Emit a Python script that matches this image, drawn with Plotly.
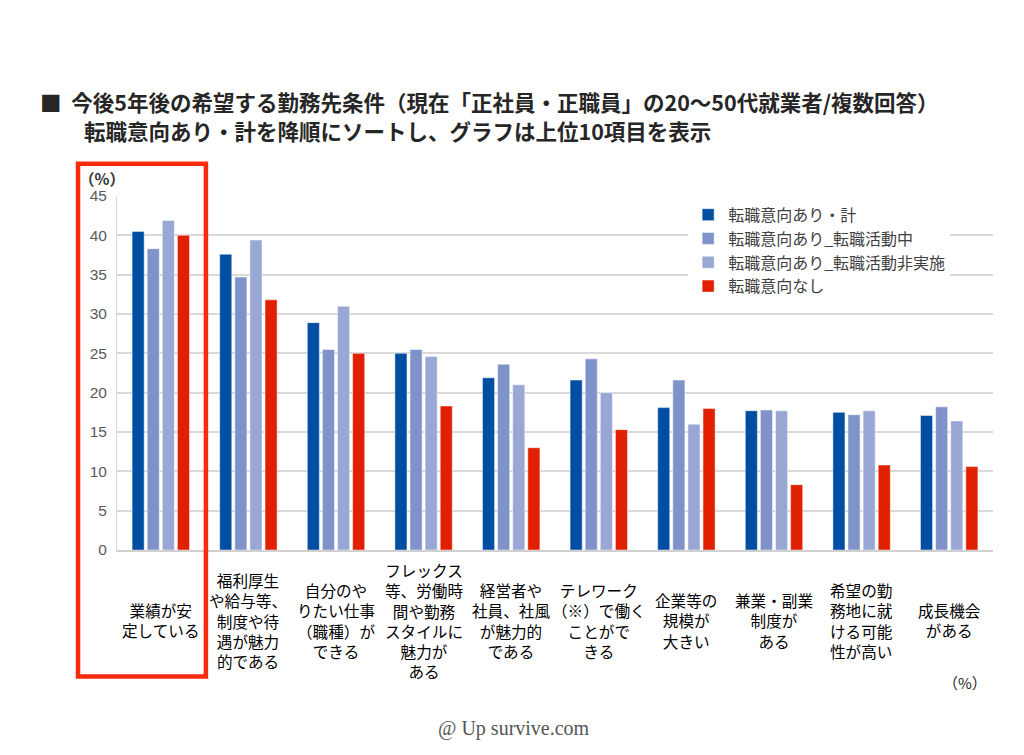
import plotly.graph_objects as go

categories = [
    "業績が安<br>定している",
    "福利厚生<br>や給与等、<br>制度や待<br>遇が魅力<br>的である",
    "自分のや<br>りたい仕事<br>（職種）が<br>できる",
    "フレックス<br>等、労働時<br>間や勤務<br>スタイルに<br>魅力が<br>ある",
    "経営者や<br>社員、社風<br>が魅力的<br>である",
    "テレワーク<br>（※）で働く<br>ことがで<br>きる",
    "企業等の<br>規模が<br>大きい",
    "兼業・副業<br>制度が<br>ある",
    "希望の勤<br>務地に就<br>ける可能<br>性が高い",
    "成長機会<br>がある",
]
cat_ids = [f"c{i}" for i in range(len(categories))]

series_names = [
    "転職意向あり・計",
    "転職意向あり_転職活動中",
    "転職意向あり_転職活動非実施",
    "転職意向なし",
]
total = [40.5, 37.6, 28.9, 25.0, 21.9, 21.6, 18.1, 17.7, 17.5, 17.1]
active = [38.3, 34.7, 25.5, 25.5, 23.6, 24.3, 21.6, 17.8, 17.2, 18.2]
inactive = [41.9, 39.4, 31.0, 24.6, 21.0, 20.0, 16.0, 17.7, 17.7, 16.4]
no_intent = [40.0, 31.8, 25.0, 18.3, 13.0, 15.3, 18.0, 8.3, 10.8, 10.6]
series_values = [total, active, inactive, no_intent]
colors = ["#004EA2", "#7F93CA", "#98A7D4", "#E02000"]

y_ticks = [0, 5, 10, 15, 20, 25, 30, 35, 40, 45]

JP = "Noto Sans CJK JP"

fig = go.Figure()
for name, vals, col in zip(series_names, series_values, colors):
    fig.add_trace(go.Bar(
        x=cat_ids, y=vals, name=name,
        marker=dict(color=col, line=dict(color="rgba(255,255,255,0.6)", width=0.8)),
    ))

# category labels as annotations, vertically centered
for cid, lab in zip(cat_ids, categories):
    fig.add_annotation(
        x=cid, xref="x", y=-0.198, yref="paper", text=lab, showarrow=False,
        xanchor="center", yanchor="middle", align="center", borderpad=0,
        font=dict(family=JP, size=15.6, color="#000000"),
    )

fig.update_layout(
    width=1024, height=755,
    margin=dict(l=109, r=39, t=188, b=213),
    paper_bgcolor="white", plot_bgcolor="white",
    barmode="group", bargap=0.31, bargroupgap=0.2,
    font=dict(family=JP),
    showlegend=True,
    legend=dict(
        x=0.652, y=0.995, xanchor="left", yanchor="top",
        bgcolor="white", font=dict(family=JP, size=16, color="#404040"),
        itemwidth=30, tracegroupgap=0,
    ),
    xaxis=dict(
        showticklabels=False, showgrid=False, showline=True,
        linecolor="#d0d0d0", linewidth=1.5, ticks="",
    ),
    yaxis=dict(
        range=[0, 45], tickvals=y_ticks, showgrid=True, gridcolor="#d9d9d9",
        gridwidth=1.5, showline=True, linecolor="#d9d9d9", linewidth=1,
        zeroline=False, ticks="",
        tickfont=dict(family="Liberation Sans, Arial", size=15.5, color="#595959"),
        ticklabelstandoff=6,
    ),
)

# titles
fig.add_annotation(
    x=-0.0902, y=1.268, xref="paper", yref="paper", xanchor="left", yanchor="middle",
    text="<b>■  今後5年後の希望する勤務先条件（現在「正社員・正職員」の20〜50代就業者/複数回答）</b>",
    showarrow=False, font=dict(family=JP, size=21.5, color="#262626"),
)
fig.add_annotation(
    x=-0.04, y=1.186, xref="paper", yref="paper", xanchor="left", yanchor="middle",
    text="<b>転職意向あり・計を降順にソートし、グラフは上位10項目を表示</b>",
    showarrow=False, font=dict(family=JP, size=21.5, color="#262626"),
)
# unit labels
fig.add_annotation(
    x=-0.0175, y=1.05, xref="paper", yref="paper", xanchor="center", yanchor="middle",
    text="<b>（%）</b>", showarrow=False, borderpad=0,
    font=dict(family=JP, size=15.5, color="#333333"),
)
fig.add_annotation(
    x=0.968, y=-0.375, xref="paper", yref="paper", xanchor="center", yanchor="middle",
    text="（%）", showarrow=False, font=dict(family=JP, size=15, color="#222222"),
)
# watermark
fig.add_annotation(
    x=0.453, y=-0.503, xref="paper", yref="paper", xanchor="center", yanchor="middle",
    text="@ Up survive.com", showarrow=False,
    font=dict(family="Liberation Serif, DejaVu Serif, serif", size=20, color="#555555"),
)
# red highlight box
fig.add_shape(
    type="rect", xref="paper", yref="paper",
    x0=-0.0445, x1=0.1015, y0=-0.357, y1=1.091,
    line=dict(color="#FA2A0C", width=4.5), fillcolor="rgba(0,0,0,0)",
)
# left page border
fig.add_shape(
    type="line", xref="paper", yref="paper",
    x0=-0.1324, x1=-0.1324, y0=-0.56, y1=1.56,
    line=dict(color="#dcdcdc", width=2.5),
)

fig.write_html("out.html")
